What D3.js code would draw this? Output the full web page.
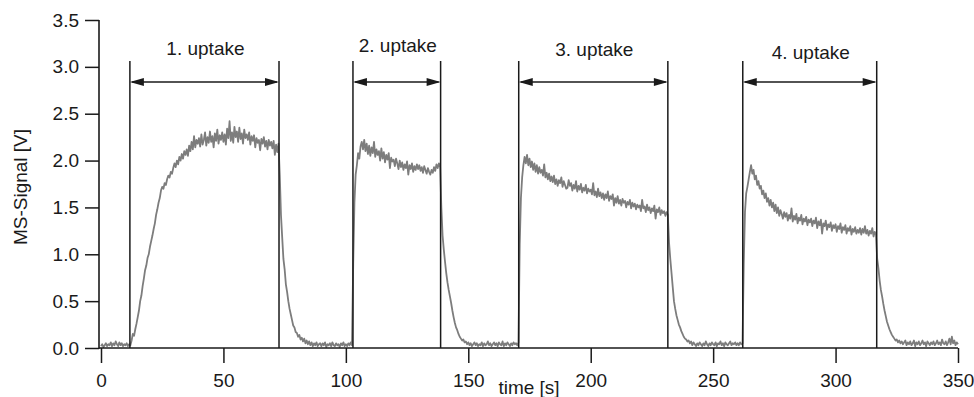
<!DOCTYPE html>
<html>
<head>
<meta charset="utf-8">
<script src="https://cdn.jsdelivr.net/npm/d3@7"></script>
<style>
  html, body { margin: 0; padding: 0; background: #fff; }
  svg { display: block; }
  text { font-family: "Liberation Sans", Arial, sans-serif; fill: #1a1a1a; }
</style>
</head>
<body>
<svg id="chart" width="974" height="397"></svg>
<script>
// ---------------- DATA ----------------
const timeStep = 0.5; // seconds between samples, starting at t = 0
const signal = [
  0.02,0.04,0.01,0.03,0.05,0.02,0.04,0.03,0.06,0.02,0.05,0.03,0.07,0.04,0.02,0.06,0.03,0.05,0.02,0.04,
  0.03,0.05,0.02,0.04,0.03,0.08,0.15,0.13,0.20,0.26,0.33,0.40,0.50,0.56,0.66,0.74,0.83,0.88,0.96,1.00,
  1.08,1.14,1.20,1.27,1.33,1.42,1.48,1.55,1.60,1.68,1.72,1.70,1.76,1.74,1.80,1.84,1.82,1.88,1.86,1.92,
  1.97,1.93,2.00,1.96,2.04,2.00,2.07,2.02,2.10,2.06,2.12,2.05,2.16,2.10,2.20,2.12,2.26,2.14,2.22,2.18,
  2.24,2.15,2.28,2.17,2.22,2.30,2.16,2.25,2.19,2.31,2.20,2.26,2.14,2.29,2.21,2.33,2.18,2.27,2.22,2.30,
  2.20,2.28,2.17,2.34,2.24,2.42,2.21,2.30,2.19,2.36,2.25,2.31,2.20,2.35,2.23,2.29,2.18,2.33,2.24,2.28,
  2.22,2.30,2.17,2.26,2.21,2.27,2.14,2.24,2.19,2.22,2.11,2.23,2.18,2.25,2.15,2.21,2.12,2.22,2.16,2.20,
  2.13,2.21,2.06,2.17,2.09,2.18,1.85,1.42,1.18,0.95,0.84,0.68,0.60,0.50,0.42,0.36,0.30,0.24,0.22,0.17,
  0.16,0.12,0.14,0.09,0.11,0.07,0.10,0.05,0.08,0.04,0.07,0.03,0.06,0.02,0.05,0.03,0.06,0.02,0.04,0.05,
  0.02,0.05,0.03,0.06,0.01,0.04,0.03,0.05,0.02,0.06,0.03,0.02,0.05,0.03,0.04,0.01,0.05,0.03,0.06,0.02,
  0.04,0.02,0.05,0.03,0.06,0.03,0.90,1.55,1.85,1.95,2.08,2.02,2.15,2.20,2.12,2.22,2.10,2.18,2.07,2.16,
  2.05,2.14,2.08,2.20,2.04,2.12,2.06,2.10,2.00,2.13,2.02,2.09,1.98,2.06,2.01,2.08,1.92,2.03,1.99,2.01,
  1.94,2.02,1.97,1.91,2.00,1.93,1.98,1.90,1.96,1.92,1.99,1.85,1.95,1.91,1.97,1.88,1.94,1.90,1.96,1.91,
  1.95,1.89,1.93,1.87,1.94,1.90,1.86,1.92,1.88,1.85,1.90,1.87,1.93,1.89,1.96,1.92,1.97,1.93,1.50,1.20,
  1.05,0.92,0.80,0.70,0.62,0.55,0.48,0.40,0.33,0.27,0.22,0.19,0.15,0.12,0.10,0.08,0.09,0.06,0.07,0.04,
  0.06,0.03,0.05,0.02,0.04,0.06,0.03,0.05,0.02,0.04,0.03,0.06,0.02,0.05,0.03,0.04,0.07,0.03,0.05,0.02,
  0.04,0.06,0.03,0.05,0.02,0.06,0.04,0.03,0.07,0.02,0.05,0.03,0.06,0.04,0.02,0.05,0.03,0.06,0.04,0.05,
  0.03,0.06,1.10,1.60,1.82,1.95,2.04,1.97,2.06,1.95,2.02,1.93,1.99,1.90,1.97,1.88,1.95,1.86,1.93,1.87,
  1.90,1.84,1.96,1.82,1.87,1.80,1.86,1.78,1.83,1.77,1.84,1.75,1.80,1.73,1.79,1.76,1.82,1.72,1.78,1.74,
  1.70,1.71,1.79,1.73,1.76,1.68,1.74,1.70,1.78,1.67,1.73,1.69,1.75,1.66,1.71,1.68,1.74,1.65,1.70,1.67,
  1.69,1.64,1.76,1.63,1.67,1.61,1.70,1.62,1.66,1.60,1.65,1.58,1.64,1.60,1.67,1.57,1.62,1.59,1.64,1.52,
  1.60,1.55,1.62,1.54,1.58,1.52,1.59,1.55,1.57,1.50,1.56,1.53,1.58,1.49,1.55,1.51,1.54,1.48,1.53,1.50,
  1.52,1.46,1.58,1.49,1.51,1.45,1.53,1.47,1.50,1.44,1.49,1.46,1.52,1.38,1.48,1.45,1.50,1.42,1.47,1.44,
  1.46,1.41,1.45,1.42,1.12,0.95,0.80,0.65,0.50,0.42,0.35,0.30,0.25,0.22,0.18,0.15,0.12,0.10,0.09,0.07,
  0.08,0.05,0.07,0.03,0.06,0.04,0.02,0.05,0.03,0.06,0.04,0.02,0.05,0.03,0.07,0.04,0.02,0.05,0.03,0.06,
  0.04,0.03,0.06,0.02,0.05,0.04,0.07,0.03,0.05,0.02,0.06,0.04,0.03,0.05,0.07,0.03,0.05,0.04,0.06,0.03,
  0.05,0.03,0.06,0.04,0.05,0.90,1.45,1.65,1.72,1.80,1.88,1.95,1.86,1.90,1.80,1.84,1.74,1.78,1.70,1.73,
  1.64,1.68,1.60,1.65,1.56,1.60,1.52,1.58,1.50,1.55,1.46,1.53,1.44,1.50,1.41,1.47,1.43,1.38,1.45,1.40,
  1.44,1.36,1.42,1.38,1.49,1.35,1.41,1.37,1.43,1.33,1.39,1.36,1.42,1.32,1.38,1.35,1.40,1.31,1.37,1.34,
  1.38,1.30,1.36,1.33,1.39,1.28,1.35,1.31,1.37,1.22,1.33,1.30,1.36,1.26,1.32,1.29,1.34,1.25,1.31,1.28,
  1.32,1.24,1.30,1.27,1.33,1.23,1.29,1.26,1.31,1.22,1.28,1.25,1.30,1.21,1.27,1.24,1.29,1.22,1.26,1.23,
  1.28,1.21,1.27,1.23,1.30,1.22,1.26,1.20,1.25,1.22,1.28,1.19,1.24,1.21,0.95,0.85,0.72,0.62,0.55,0.47,
  0.40,0.34,0.28,0.24,0.20,0.17,0.14,0.12,0.10,0.08,0.09,0.06,0.08,0.05,0.07,0.04,0.06,0.08,0.03,0.06,
  0.04,0.07,0.03,0.05,0.08,0.02,0.06,0.04,0.07,0.03,0.05,0.08,0.04,0.06,0.02,0.07,0.05,0.03,0.06,0.04,
  0.07,0.03,0.05,0.08,0.04,0.06,0.03,0.09,0.05,0.04,0.07,0.03,0.06,0.10,0.04,0.12,0.05,0.08,0.03,0.06,
  0.04
];
// uptake windows (start / end time in s) and their labels
const uptakeStart = [11.8, 102.9, 170.6, 262.1];
const uptakeEnd   = [72.7, 138.7, 231.5, 316.8];
const uptakeLabels = ["1. uptake", "2. uptake", "3. uptake", "4. uptake"];
const xTicks = [0, 50, 100, 150, 200, 250, 300, 350];
const yTicks = [0.0, 0.5, 1.0, 1.5, 2.0, 2.5, 3.0, 3.5];
const xTitle = "time [s]";
const yTitle = "MS-Signal [V]";

// ---------------- LAYOUT ----------------
const labelBaselines = [55, 52, 56, 59]; // per-label baseline (px)
const svg = d3.select("#chart");
const x = d3.scaleLinear().domain([0, 350]).range([101, 958]);
const y = d3.scaleLinear().domain([0, 3.5]).range([348, 20]);
const fontSize = 19;
const ink = "#1a1a1a";

// signal line (drawn first so the markers sit on top)
const pts = signal.map((v, i) => [i * timeStep, v]);
svg.append("path")
  .datum(pts)
  .attr("fill", "none")
  .attr("stroke", "#7d7d7d")
  .attr("stroke-width", 1.8)
  .attr("stroke-linejoin", "round")
  .attr("d", d3.line().x(d => x(d[0])).y(d => y(d[1])));

// x axis
const xAxis = svg.append("g")
  .attr("transform", "translate(0,348)")
  .call(d3.axisBottom(x).tickValues(xTicks).tickSize(15).tickPadding(11).tickFormat(d3.format("d")));
xAxis.select(".domain").remove();
xAxis.selectAll(".tick line").attr("stroke", ink).attr("stroke-width", 1.5);
xAxis.selectAll("text").attr("font-size", fontSize).attr("fill", ink)
  .attr("font-family", "Liberation Sans, Arial, sans-serif");
svg.append("line").attr("x1", 99).attr("x2", x(350)).attr("y1", 348).attr("y2", 348)
  .attr("stroke", ink).attr("stroke-width", 1.6);

// y axis
const yAxis = svg.append("g")
  .attr("transform", "translate(99,0)")
  .call(d3.axisLeft(y).tickValues(yTicks).tickSize(14).tickPadding(6).tickFormat(d3.format(".1f")));
yAxis.select(".domain").remove();
yAxis.selectAll(".tick line").attr("stroke", ink).attr("stroke-width", 1.5);
yAxis.selectAll("text").attr("font-size", fontSize).attr("fill", ink)
  .attr("font-family", "Liberation Sans, Arial, sans-serif");
svg.append("line").attr("x1", 99).attr("x2", 99).attr("y1", y(3.5)).attr("y2", 348.8)
  .attr("stroke", ink).attr("stroke-width", 1.6);

// axis titles
svg.append("text").attr("x", 529).attr("y", 394).attr("text-anchor", "middle")
  .attr("font-size", fontSize).text(xTitle);
svg.append("text").attr("transform", "translate(27,187) rotate(-90)")
  .attr("text-anchor", "middle").attr("font-size", fontSize).text(yTitle);

// uptake markers
const topY = 61, arrowY = 82, headL = 14, headW = 4;
uptakeStart.forEach((s, i) => {
  const x0 = x(s), x1 = x(uptakeEnd[i]);
  const g = svg.append("g");
  [x0, x1].forEach(xx => {
    g.append("line").attr("x1", xx).attr("x2", xx).attr("y1", topY).attr("y2", 348)
      .attr("stroke", ink).attr("stroke-width", 1.5);
  });
  g.append("line").attr("x1", x0 + 2).attr("x2", x1 - 2).attr("y1", arrowY).attr("y2", arrowY)
    .attr("stroke", ink).attr("stroke-width", 1.6);
  g.append("path")
    .attr("d", `M${x0},${arrowY} L${x0 + headL},${arrowY - headW} L${x0 + headL},${arrowY + headW} Z`)
    .attr("fill", ink);
  g.append("path")
    .attr("d", `M${x1},${arrowY} L${x1 - headL},${arrowY - headW} L${x1 - headL},${arrowY + headW} Z`)
    .attr("fill", ink);
  g.append("text").attr("x", (x0 + x1) / 2 + 1).attr("y", labelBaselines[i])
    .attr("text-anchor", "middle").attr("font-size", fontSize).text(uptakeLabels[i]);
});
</script>
</body>
</html>
